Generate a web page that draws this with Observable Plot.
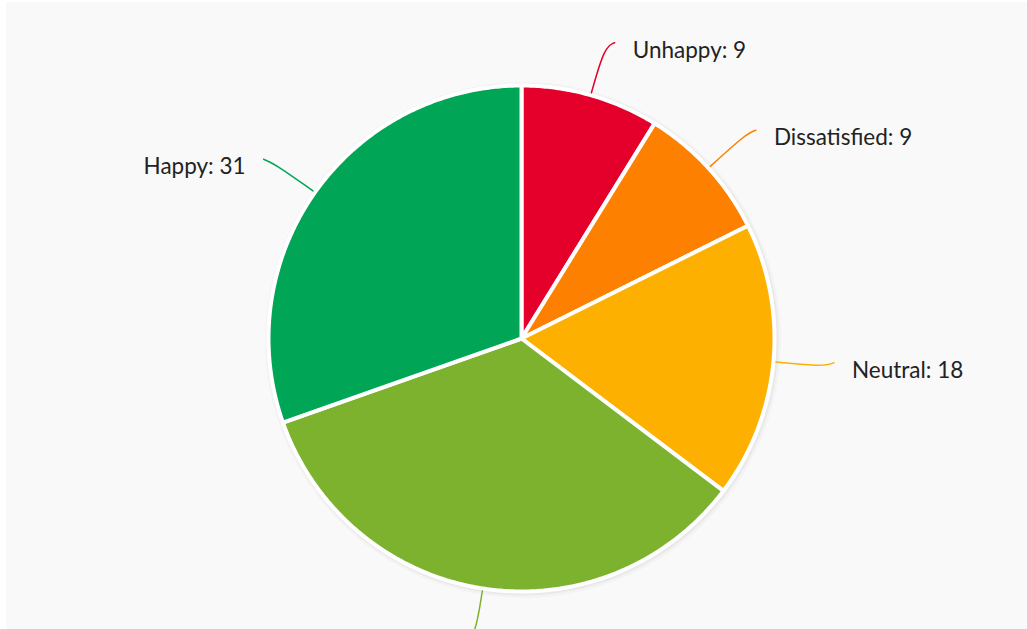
<!DOCTYPE html>
<html><head><meta charset="utf-8">
<script src="https://cdn.jsdelivr.net/npm/d3@7"></script>
<script src="https://cdn.jsdelivr.net/npm/@observablehq/plot@0.6"></script>
<style>
html,body{margin:0;padding:0;background:#fff;}
#chart{position:absolute;left:6px;top:2px;width:1021px;height:627px;background:#f9f9f9;overflow:hidden;}
</style></head><body><div id="chart"></div>
<script>
const categories = ["Unhappy", "Dissatisfied", "Neutral", "Satisfied", "Happy"];
const values = [9, 9, 18, 35, 31];
const colors = ["#e4002b", "#fe8000", "#fdb000", "#7db22f", "#00a556"];

const R = 253; // pixel radius (layout)
const pie = d3.pie().sort(null).value(d => d.value);
const arcs = pie(categories.map((c, i) => ({category: c, value: values[i], color: colors[i]})));
// angles clockwise from north; data coords: x = sin, y = cos
const pt = (a, r) => ({x: r * Math.sin(a), y: r * Math.cos(a)});
const slices = arcs.map(a => {
  const pts = [{x: 0, y: 0}];
  const n = Math.max(2, Math.ceil((a.endAngle - a.startAngle) / (Math.PI / 360)));
  for (let k = 0; k <= n; k++) pts.push(pt(a.startAngle + (a.endAngle - a.startAngle) * k / n, 1));
  pts.push({x: 0, y: 0});
  const mid = (a.startAngle + a.endAngle) / 2;
  const side = Math.sin(mid) >= 0 ? 1 : -1;
  const p0 = pt(mid, 1.01), p1 = pt(mid, 1.2);
  const p2 = {x: p1.x + side * 0.04, y: p1.y + 0.015};
  return {...a.data, pts, mid, side, leader: [p0, p1, p2], end: p2,
          label: `${a.data.category}: ${a.data.value}`};
});

const marks = [
  Plot.dot([{x: 0, y: 0}], {x: "x", y: "y", r: R + 5, fill: "#000", fillOpacity: 0.025, dx: 1.5, dy: 1.5}),
  Plot.dot([{x: 0, y: 0}], {x: "x", y: "y", r: R + 3, fill: "#000", fillOpacity: 0.04, dx: 1, dy: 1}),
  ...slices.map(s => Plot.line(s.pts, {x: "x", y: "y", fill: s.color, stroke: "#fff", strokeWidth: 4, strokeLinejoin: "round", curve: "linear"})),
  ...slices.map(s => Plot.line(s.leader, {x: "x", y: "y", stroke: s.color, strokeWidth: 1.5, curve: "basis"})),
  Plot.text(slices.filter(s => s.side > 0), {x: d => d.end.x, y: d => d.end.y, text: "label", textAnchor: "start", dx: 18, dy: 8, fontSize: 22.5, fill: "#222"}),
  Plot.text(slices.filter(s => s.side < 0), {x: d => d.end.x, y: d => d.end.y, text: "label", textAnchor: "end", dx: -18, dy: 8, fontSize: 22.5, fill: "#222"})
];

const chart = Plot.plot({
  width: 1021, height: 627,
  marginLeft: 262, marginRight: 253, marginTop: 83, marginBottom: 38,
  x: {domain: [-1, 1], axis: null},
  y: {domain: [-1, 1], axis: null},
  style: {background: "transparent", fontFamily: "Lato, sans-serif", overflow: "visible"},
  marks
});
document.getElementById("chart").appendChild(chart);
</script></body></html>
